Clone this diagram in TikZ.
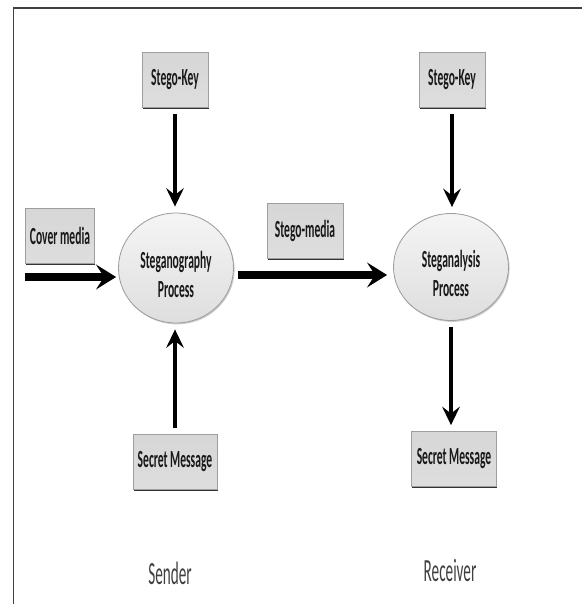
\documentclass[tikz,border=0pt]{standalone}
\usepackage{fontspec}
\setmainfont{Carlito}[FakeStretch=0.47]
\usepackage{tikz}
\usetikzlibrary{arrows.meta}
\usetikzlibrary{shapes.geometric}
\usetikzlibrary{shadows}
\definecolor{qqqqqq}{rgb}{0.1,0.1,0.1}
\definecolor{zzzzzz}{rgb}{0.25,0.25,0.25}
\definecolor{ccbbbb}{rgb}{0.62,0.62,0.62}
\definecolor{ddtop}{rgb}{0.84,0.84,0.84}
\definecolor{ddmid}{rgb}{0.96,0.96,0.96}
\definecolor{ddbot}{rgb}{0.87,0.87,0.87}
\newcommand{\proclines}[2]{\raisebox{-0.73cm}[0pt][0pt]{\begin{tabular}[b]{@{}c@{}}#1\\#2\end{tabular}}}
\tikzstyle{every node}=[font=\fontsize{17.5}{19}\selectfont\bfseries, text=qqqqqq]
\tikzstyle{stegobox}=[rectangle, draw=ccbbbb, line width=0.5pt, top color=ddtop, middle color=ddmid, bottom color=ddbot, minimum height=1.375cm, inner sep=2pt, drop shadow={shadow xshift=0.4pt, shadow yshift=-1.4pt, fill=black!80, opacity=1}]
\tikzstyle{process}=[ellipse, draw=ccbbbb, line width=0.6pt, top color=ddmid, bottom color=ddbot, minimum width=2.875cm, minimum height=2.75cm, inner sep=0pt, font=\fontsize{17.5}{20.5}\selectfont\bfseries, drop shadow={shadow xshift=0.8pt, shadow yshift=-1pt, fill=black!40, opacity=0.5}]
\tikzstyle{side}=[font=\fontsize{23}{25}\selectfont, text=zzzzzz]
\tikzstyle{thinarrow}=[line width=2.6pt, -{Stealth[length=0.46cm, width=0.44cm, inset=0.17cm]}, shorten <=0.15cm, shorten >=0.15cm]
\tikzstyle{thickarrow}=[line width=5pt, -{Stealth[length=0.5cm, width=0.62cm, inset=0.2cm]}]

\begin{document}
\begin{tikzpicture}[line cap=butt,line join=miter,x=1.0cm,y=1.0cm]
                \useasboundingbox (0.,0.) rectangle (14.55,15.1);
                \draw [line width=1.4pt,color=zzzzzz] (0.325,14.9)-- (14.55,14.9);
                \draw [line width=0.6pt,color=zzzzzz] (0.325,14.9)-- (0.325,0.);
                % sender side
                \node [stegobox, minimum width=1.65cm] (keyS) at (4.375,13.1) {Stego-Key};
                \node [stegobox, minimum width=1.725cm] (cover) at (1.5,9.2) {Cover media};
                \node [process] (steg) at (4.4,8.4) {\proclines{Steganography}{Process}};
                \node [stegobox, minimum width=2.1cm] (secretS) at (4.375,3.55) {Secret Message};
                % receiver side
                \node [stegobox, minimum width=1.9cm] (smedia) at (7.625,9.325) {Stego-media};
                \node [stegobox, minimum width=1.65cm] (keyR) at (11.3,13.1) {Stego-Key};
                \node [process, minimum height=2.675cm] (ana) at (11.275,8.425) {\proclines{Steganalysis}{Process}};
                \node [stegobox, minimum width=2.125cm] (secretR) at (11.35,3.625) {Secret Message};
                \node [side] (sender) at (4.25,0.775) {Sender};
                \node [side] (receiver) at (11.25,0.85) {Receiver};
                \coordinate (cin) at (0.625,8.175);
                \draw [thickarrow] (cin) -- ([xshift=-0.05cm]cin -| steg.west);
                \draw [thickarrow] ([xshift=0.1cm]steg.east |- 0,8.225) -- ([xshift=-0.15cm]ana.west |- 0,8.225);
                \draw [thinarrow] (keyS.south) -- (keyS.south |- steg.north);
                \draw [thinarrow] (secretS.north) -- (secretS.north |- steg.south);
                \draw [thinarrow] (keyR.south) -- (keyR.south |- ana.north);
                \draw [thinarrow] (ana.south) -- (ana.south |- secretR.north);
            \end{tikzpicture}
\end{document}
